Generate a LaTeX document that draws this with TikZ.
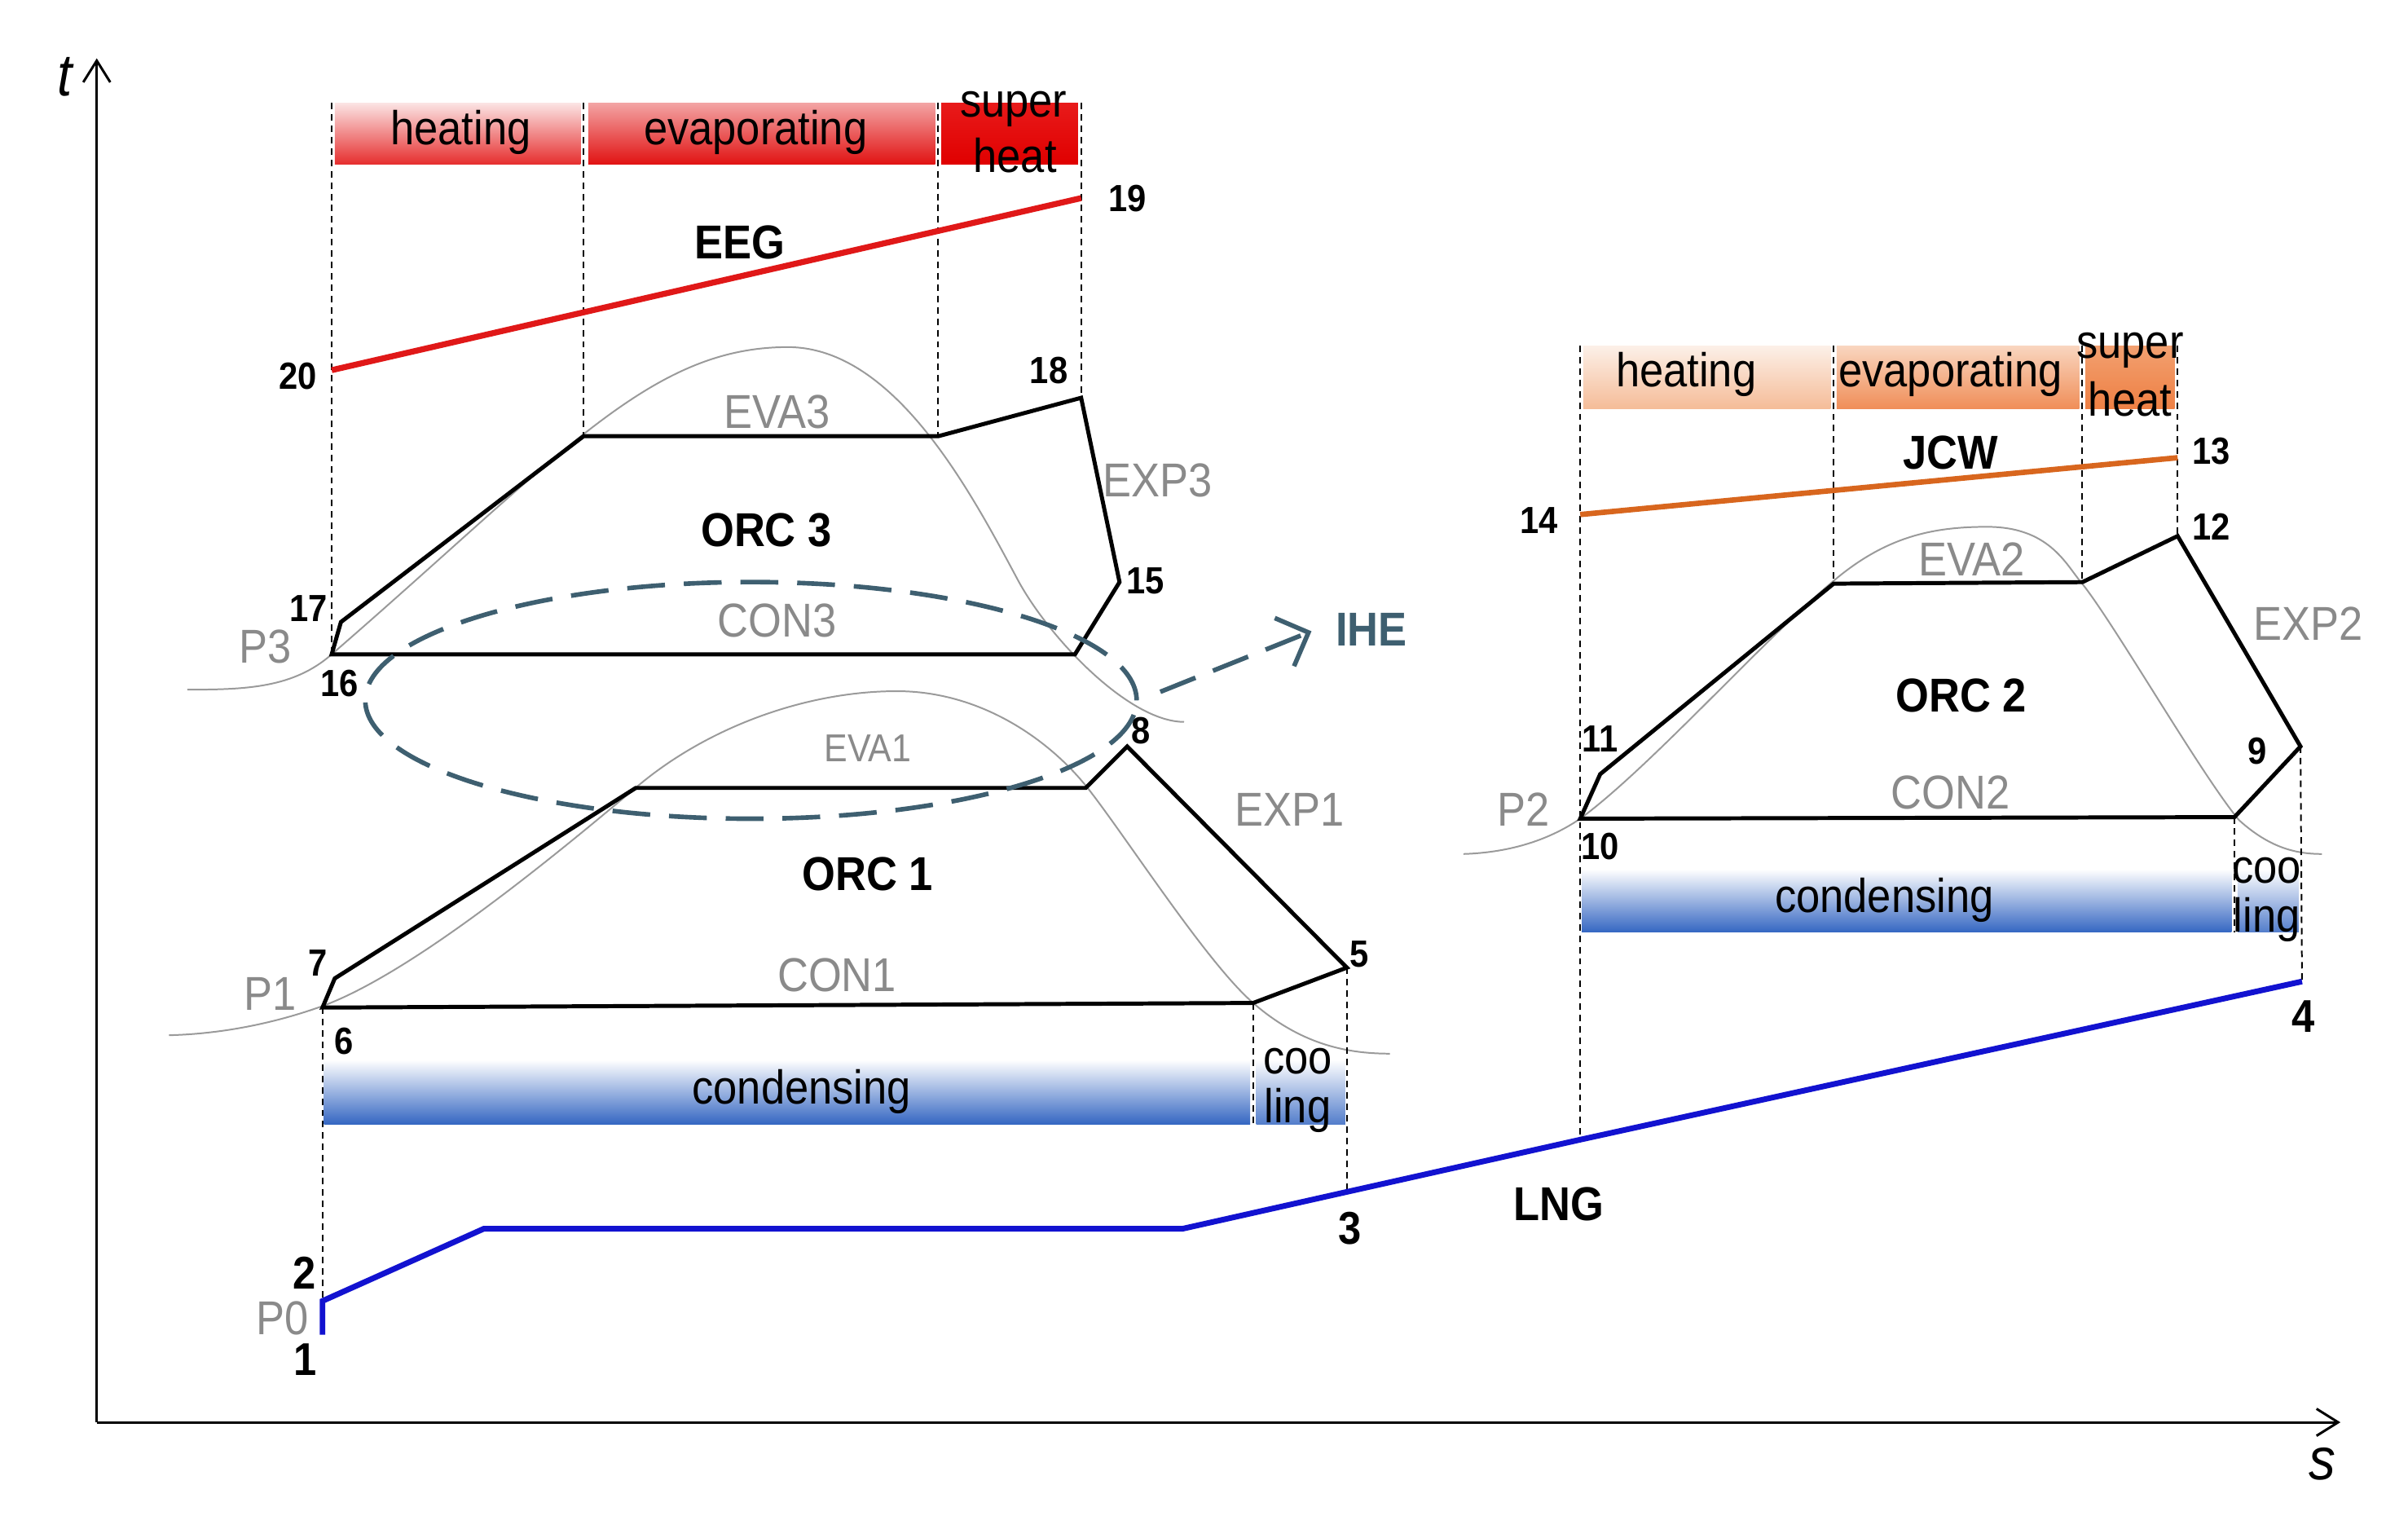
\documentclass[tikz,border=0pt]{standalone}
\usepackage{fontspec}
\setmainfont[FakeStretch=0.9]{Liberation Sans}
\usetikzlibrary{arrows.meta,shapes.geometric}
\definecolor{eegred}{HTML}{E01818}
\definecolor{jcworange}{HTML}{D8661E}
\definecolor{lngblue}{HTML}{1212D0}
\definecolor{ihecol}{HTML}{3E5F70}
\definecolor{labgray}{HTML}{8A8A8A}
\definecolor{domegray}{HTML}{9A9A9A}
\definecolor{condblue}{HTML}{3466C2}
\definecolor{eHa}{HTML}{FBE4E4}\definecolor{eHb}{HTML}{E62E2E}
\definecolor{eEa}{HTML}{F3A4A4}\definecolor{eEb}{HTML}{E11212}
\definecolor{eSa}{HTML}{E81A1A}\definecolor{eSb}{HTML}{E00000}
\definecolor{jHa}{HTML}{FCF0E8}\definecolor{jHb}{HTML}{F5BC98}
\definecolor{jEa}{HTML}{F9D6C0}\definecolor{jEb}{HTML}{F08E58}
\definecolor{jSa}{HTML}{F2A070}\definecolor{jSb}{HTML}{EE8044}
\begin{document}
\begin{tikzpicture}[x=0.01cm,y=-0.01cm,
  lab/.style={font=\fontsize{8.8}{10}\selectfont,inner sep=0pt},
  glab/.style={lab,text=labgray},
  blab/.style={font=\bfseries\fontsize{8.8}{10}\selectfont,inner sep=0pt},
  num/.style={font=\bfseries\fontsize{7}{8}\selectfont,inner sep=0pt},
  bignum/.style={font=\bfseries\fontsize{8.5}{10}\selectfont,inner sep=0pt},
  axislab/.style={font=\itshape\fontsize{11}{12}\selectfont,inner sep=0pt},
  axisline/.style={line width=0.45pt,-{Straight Barb[length=4pt,width=5pt]}},
  cyc/.style={line width=0.75pt,line join=miter},
  dome/.style={line width=0.3pt,draw=domegray},
  guide/.style={line width=0.3pt,dash pattern=on 1.2pt off 0.9pt},
  ihe/.style={draw=ihecol,line width=0.85pt,dash pattern=on 7pt off 3.5pt}
]
\useasboundingbox (0,0) rectangle (1568,995);

% ---------- coordinates ----------
\coordinate (O) at (63,926);
\coordinate (tTop) at (63,38);
\coordinate (sEnd) at (1524,926);
% EEG
\coordinate (c20) at (216,241);
\coordinate (c19) at (704,129);
% ORC3
\coordinate (c16) at (216,426);
\coordinate (c17) at (222,405);
\coordinate (e3a) at (380,284);
\coordinate (e3b) at (611,284);
\coordinate (c18) at (704,259);
\coordinate (c15) at (729,379);
\coordinate (k3) at (700,426);
% ORC1
\coordinate (c6) at (210,656);
\coordinate (c7) at (218,637);
\coordinate (e1a) at (414,513);
\coordinate (e1b) at (707,513);
\coordinate (c8) at (734,486);
\coordinate (c5) at (877,630);
\coordinate (k1) at (816,653);
% ORC2
\coordinate (c10) at (1029,533);
\coordinate (c11) at (1042,504);
\coordinate (e2a) at (1194,380);
\coordinate (e2b) at (1356,379);
\coordinate (c12) at (1418,349);
\coordinate (c9) at (1498,486);
\coordinate (k2) at (1455,532);
% JCW
\coordinate (c14) at (1029,335);
\coordinate (c13) at (1418,298);
% LNG
\coordinate (c1) at (210,869);
\coordinate (c2) at (210,847);
\coordinate (l1) at (315,800);
\coordinate (l2) at (770,800);
\coordinate (c3) at (877,776);
\coordinate (l3) at (1029,742);
\coordinate (c4) at (1499,639);
% guide tops
\coordinate (g216) at (216,67);
\coordinate (g380) at (380,67);
\coordinate (g611) at (611,67);
\coordinate (g704) at (704,67);
\coordinate (g1029) at (1029,225);
\coordinate (g1194) at (1194,225);
\coordinate (g1356) at (1356,225);
\coordinate (g1418) at (1418,225);
\coordinate (b816) at (816,732);
\coordinate (b1455) at (1455,607);

% ---------- bands ----------
\shade[top color=eHa,bottom color=eHb] (218,67) rectangle (378,107);
\shade[top color=eEa,bottom color=eEb] (383,67) rectangle (609,107);
\shade[top color=eSa,bottom color=eSb] (613,67) rectangle (702,107);
\shade[top color=jHa,bottom color=jHb] (1031,225) rectangle (1192,266);
\shade[top color=jEa,bottom color=jEb] (1196,225) rectangle (1354,266);
\shade[top color=jSa,bottom color=jSb] (1358,225) rectangle (1416,266);
\shade[top color=white,middle color=condblue!55!white,bottom color=condblue] (211,690) rectangle (814,732);
\shade[top color=white,middle color=condblue!45!white,bottom color=condblue!85!white] (818,690) rectangle (876,732);
\shade[top color=white,middle color=condblue!55!white,bottom color=condblue] (1030,566) rectangle (1453,607);
\shade[top color=white,middle color=condblue!45!white,bottom color=condblue!85!white] (1457,566) rectangle (1497,607);

% ---------- axes ----------
\draw[axisline] (O) -- (tTop);
\draw[axisline] (O) -- (sEnd);
\node[axislab] (tlab) at (42,50) {t};
\node[axislab] (slab) at (1512,953) {s};

% ---------- domes ----------
\draw[dome] (122,449) .. controls (160,449) and (191,448) .. (216,426)
  .. controls (366,296) and (423,226) .. (513,226)
  .. controls (583,226) and (633,322) .. (663,378)
  .. controls (683,415) and (735,470) .. (771,470);
\draw[dome] (110,674) .. controls (150,673) and (185,664) .. (210,655)
  .. controls (270,633) and (365,554) .. (415,512)
  .. controls (460,474) and (524,450) .. (584,450)
  .. controls (639,450) and (684,482) .. (709,514)
  .. controls (734,546) and (786,627) .. (816,653)
  .. controls (846,679) and (875,686) .. (905,686);
\draw[dome] (953,556) .. controls (985,555) and (1010,546) .. (1029,533)
  .. controls (1074,500) and (1148,417) .. (1193,379)
  .. controls (1228,349) and (1259,343) .. (1294,343)
  .. controls (1334,343) and (1345,367) .. (1355,379)
  .. controls (1375,403) and (1433,504) .. (1458,534)
  .. controls (1478,552) and (1495,556) .. (1512,556);

% ---------- guides ----------
\draw[guide] (g216) -- (c16);
\draw[guide] (g380) -- (e3a);
\draw[guide] (g611) -- (e3b);
\draw[guide] (g704) -- (c18);
\draw[guide] (c6) -- (c2);
\draw[guide] (k1) -- (b816);
\draw[guide] (c5) -- (c3);
\draw[guide] (g1029) -- (l3);
\draw[guide] (g1194) -- (e2a);
\draw[guide] (g1356) -- (e2b);
\draw[guide] (g1418) -- (c12);
\draw[guide] (k2) -- (b1455);
\draw[guide] (c9) -- (c4);

% ---------- process lines ----------
\draw[eegred,line width=1.1pt] (c20) -- (c19);
\draw[jcworange,line width=1.0pt] (c14) -- (c13);
\draw[lngblue,line width=1.05pt,line join=miter] (c1) -- (c2) -- (l1) -- (l2) -- (c3) -- (l3) -- (c4);
\draw[cyc] (c16) -- (c17) -- (e3a) -- (e3b) -- (c18) -- (c15) -- (k3) -- cycle;
\draw[cyc] (c6) -- (c7) -- (e1a) -- (e1b) -- (c8) -- (c5) -- (k1) -- cycle;
\draw[cyc] (c10) -- (c11) -- (e2a) -- (e2b) -- (c12) -- (c9) -- (k2) -- cycle;

% ---------- IHE ----------
\node[ihe,ellipse,minimum width=5.02cm,minimum height=1.54cm,inner sep=0pt] (iheell) at (489,456) {};
\node[font=\bfseries\fontsize{8.8}{10}\selectfont,text=ihecol,inner sep=0pt] (ihelab) at (893,410) {IHE};
\coordinate (iheTip) at (854,411);
\draw[ihe,shorten <=0.15cm,-{Straight Barb[length=4.8pt,width=9.6pt,line width=0.85pt]}] (iheell.east) -- (iheTip);

% ---------- band labels ----------
\node[lab] (h3) at (300,86) {heating};
\node[lab] (v3) at (492,86) {evaporating};
\node[lab] (s3a) at (660,71) {super};
\node[lab] (s3b) at (661,101) {heat};
\node[lab] (h2) at (1098,244) {heating};
\node[lab] (v2) at (1270,244) {evaporating};
\node[lab] (s2a) at (1387,228) {super};
\node[lab] (s2b) at (1387,260) {heat};
\node[lab] (cd1) at (522,711) {condensing};
\node[lab] (co1a) at (845,691) {coo};
\node[lab] (co1b) at (845,723) {ling};
\node[lab] (cd2) at (1227,586) {condensing};
\node[lab] (co2a) at (1476,567) {coo};
\node[lab] (co2b) at (1476,599) {ling};

% ---------- stream / cycle names ----------
\node[blab] (eeg) at (482,158) {EEG};
\node[blab] (jcw) at (1270,295) {JCW};
\node[blab] (lng) at (1015,784) {LNG};
\node[blab] (orc3) at (499,345) {ORC 3};
\node[blab] (orc1) at (565,569) {ORC 1};
\node[blab] (orc2) at (1277,453) {ORC 2};

% ---------- gray labels ----------
\node[glab] (eva3) at (506,268) {EVA3};
\node[glab] (con3) at (506,404) {CON3};
\node[glab] (exp3) at (754,313) {EXP3};
\node[glab] (p3) at (173,421) {P3};
\node[glab,font=\fontsize{7.2}{8}\selectfont] (eva1) at (565,487) {EVA1};
\node[glab] (con1) at (545,635) {CON1};
\node[glab] (exp1) at (840,527) {EXP1};
\node[glab] (p1) at (176,647) {P1};
\node[glab] (p0) at (184,858) {P0};
\node[glab] (eva2) at (1284,364) {EVA2};
\node[glab] (con2) at (1270,516) {CON2};
\node[glab] (exp2) at (1503,406) {EXP2};
\node[glab] (p2) at (992,527) {P2};

% ---------- state numbers ----------
\node[num] (n20) at (194,245) {20};
\node[num] (n19) at (734,129) {19};
\node[num] (n18) at (683,241) {18};
\node[num] (n17) at (201,396) {17};
\node[num] (n16) at (221,445) {16};
\node[num] (n15) at (746,378) {15};
\node[num] (n14) at (1002,339) {14};
\node[num] (n13) at (1440,294) {13};
\node[num] (n12) at (1440,343) {12};
\node[num] (n11) at (1042,481) {11};
\node[num] (n10) at (1042,551) {10};
\node[num] (n9) at (1470,489) {9};
\node[num] (n8) at (743,476) {8};
\node[num] (n7) at (207,627) {7};
\node[num] (n6) at (224,678) {6};
\node[num] (n5) at (885,621) {5};
\node[bignum] (n4) at (1500,662) {4};
\node[bignum] (n3) at (879,800) {3};
\node[bignum] (n2) at (198,829) {2};
\node[bignum] (n1) at (199,885) {1};
\end{tikzpicture}
\end{document}
